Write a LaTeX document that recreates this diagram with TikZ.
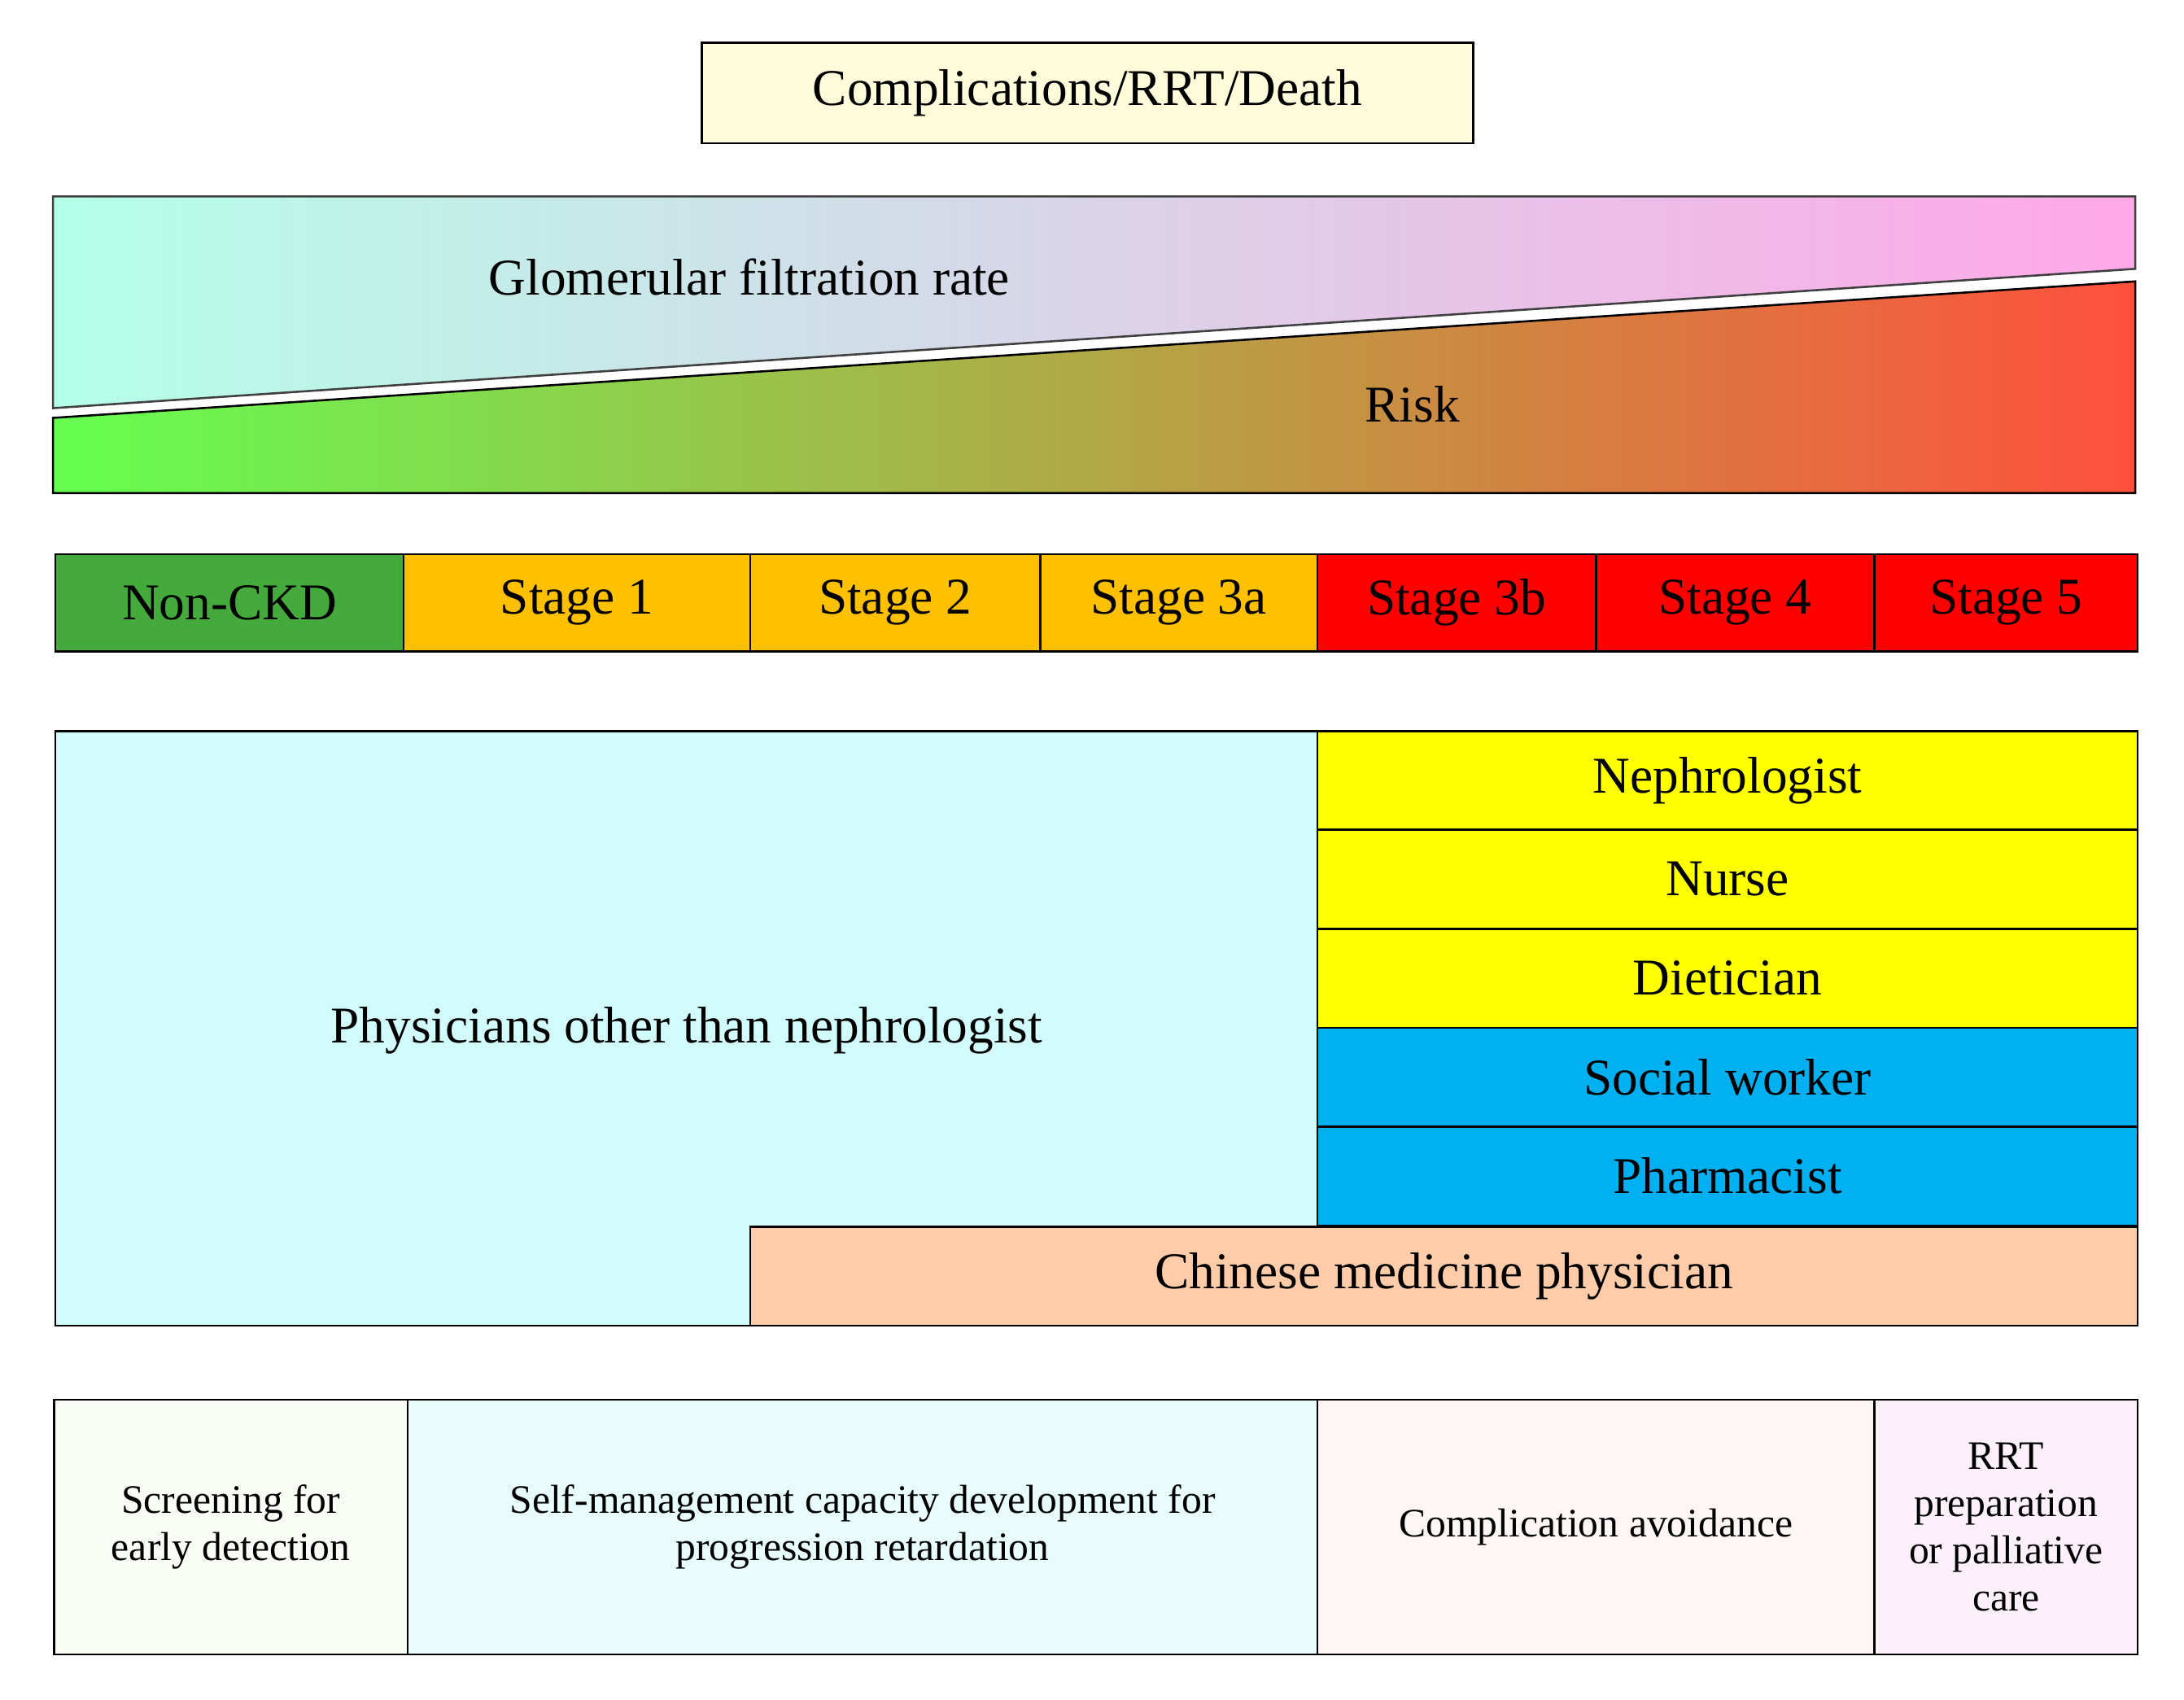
\documentclass[tikz,border=0pt]{standalone}
\usepackage{fontspec}
\setmainfont{Liberation Serif}
\begin{document}
\begin{tikzpicture}[x=1pt,y=-1pt,
  box/.style={draw=black,line width=1.5pt,anchor=north west,inner sep=0pt,align=center},
  big/.style={font=\fontsize{37}{44}\selectfont},
  small/.style={font=\fontsize{29}{34}\selectfont}]
\definecolor{titley}{RGB}{255,252,220}
\definecolor{gfrl}{RGB}{180,255,232}
\definecolor{gfrr}{RGB}{255,168,232}
\definecolor{riskl}{RGB}{100,255,80}
\definecolor{riskm}{RGB}{255,205,135}
\definecolor{riskr}{RGB}{255,80,60}
\definecolor{sgreen}{RGB}{68,170,60}
\definecolor{sorange}{RGB}{255,192,0}
\definecolor{sred}{RGB}{255,0,0}
\definecolor{phys}{RGB}{210,252,252}
\definecolor{syel}{RGB}{255,255,0}
\definecolor{sblue}{RGB}{0,176,240}
\definecolor{chin}{RGB}{255,204,170}
\definecolor{b1}{RGB}{248,252,245}
\definecolor{b2}{RGB}{232,252,252}
\definecolor{b3}{RGB}{254,245,245}
\definecolor{b4}{RGB}{252,240,250}
\useasboundingbox (0,0) rectangle (1568,1220);
\node[box,big,fill=titley,minimum width=554,minimum height=72] (title) at (503,30) {Complications/RRT/Death};
\shade[left color=gfrl,right color=gfrr] (38,141) -- (1533,141) -- (1533,193) -- (38,293) -- cycle;
\draw[gray!50!black,line width=1.5pt] (38,141) -- (1533,141) -- (1533,193) -- (38,293) -- cycle;
\shade[left color=riskl,middle color=riskm,right color=riskr] (38,300) -- (1533,202) -- (1533,354) -- (38,354) -- cycle;
\draw[black,line width=1.5pt] (38,300) -- (1533,202) -- (1533,354) -- (38,354) -- cycle;
\node[big] (gfr) at (538,199) {Glomerular filtration rate};
\node[big] (risk) at (1014,290) {Risk};
\foreach \a/\b/\c/\t/\n in {39/289/sgreen/Non-CKD/s0,289/538/sorange/Stage 1/s1,538/746/sorange/Stage 2/s2,746/945/sorange/Stage 3a/s3,945/1145/sred/Stage 3b/s4,1145/1345/sred/Stage 4/s5,1345/1534/sred/Stage 5/s6}
  \node[box,big,fill=\c,minimum width=\b-\a,minimum height=70] (\n) at (\a,397) {\t};
\node[box,fill=phys,minimum width=906,minimum height=427] (phys) at (39,524) {};
\node[big] (physl) at (493,740) {Physicians other than nephrologist};
\foreach \y/\c/\t/\n in {524/syel/Nephrologist/r1,595/syel/Nurse/r2,666/syel/Dietician/r3,737/sblue/Social worker/r4,808/sblue/Pharmacist/r5}
  \node[box,big,fill=\c,minimum width=589,minimum height=71] (\n) at (945,\y) {\t};
\node[box,big,fill=chin,minimum width=996,minimum height=71] (chin) at (538,880) {Chinese medicine physician};
\node[box,small,fill=b1,minimum width=254,minimum height=183] (g1) at (38,1004) {Screening for\\early detection};
\node[box,small,fill=b2,minimum width=653,minimum height=183] (g2) at (292,1004) {Self-management capacity development for\\progression retardation};
\node[box,small,fill=b3,minimum width=400,minimum height=183] (g3) at (945,1004) {Complication avoidance};
\node[box,small,fill=b4,minimum width=189,minimum height=183] (g4) at (1345,1004) {RRT\\preparation\\or palliative\\care};
\end{tikzpicture}
\end{document}
